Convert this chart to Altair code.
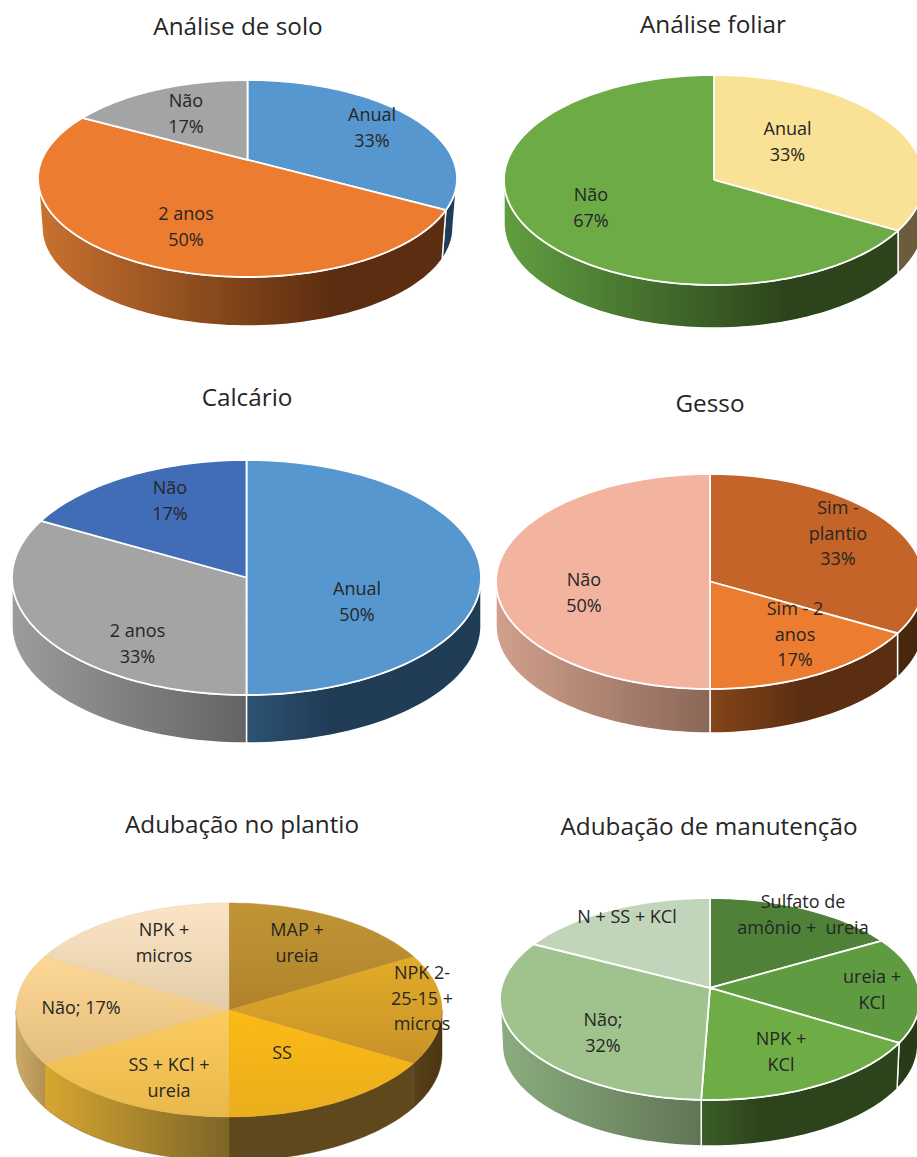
import numpy as np
import pandas as pd
import altair as alt

CANVAS_W, CANVAS_H = 917, 1157
FONT = "Open Sans"
INK = "#262626"

# Shares of each slice, clockwise from twelve o'clock
solo_cats = ["Anual", "2 anos", "Não"]
solo_vals = [33, 50, 17]
foliar_cats = ["Anual", "Não"]
foliar_vals = [33, 67]
calcario_cats = ["Anual", "2 anos", "Não"]
calcario_vals = [50, 33, 17]
gesso_cats = ["Sim - plantio", "Sim - 2 anos", "Não"]
gesso_vals = [33, 17, 50]
plantio_cats = ["MAP + ureia", "NPK 2-25-15 + micros", "SS", "SS + KCl + ureia", "Não", "NPK + micros"]
plantio_vals = [17, 17, 17, 17, 17, 17]
manut_cats = ["Sulfato de amônio + ureia", "ureia + KCl", "NPK + KCl", "Não", "N + SS + KCl"]
manut_vals = [16.7, 17, 16.9, 32, 17.4]


def flat(c):
    return [(0, c), (1, c)]


# Disc geometry: ellipse centre, semi-axes, apex shift (perspective) and wall depth.
# Each slice carries its face fill (one colour, or top/bottom pair) and wall stops.
PIES = [
    dict(title="Análise de solo", title_xy=(238, 28), cats=solo_cats, vals=solo_vals,
         cx=247.5, cy=178.5, a=209.5, b=98.5, e=-0.19, depth=49, edge="#FFFFFF",
         faces=["#5797D0", "#EC7C30", "#A3A4A3"],
         walls=[flat("#1F3D58"),
                [(0, "#C8722F"), (0.72, "#5C2D10"), (1, "#5C2D10")],
                flat("#777777")],
         labels=[(["Anual", "33%"], 372, 115), (["2 anos", "50%"], 186, 214), (["Não", "17%"], 186, 101)]),
    dict(title="Análise foliar", title_xy=(713, 26), cats=foliar_cats, vals=foliar_vals,
         cx=714, cy=180, a=210, b=105, e=0.0, depth=43, edge="#FFFFFF",
         faces=["#F9E195", "#6DAB47"],
         walls=[flat("#6A5C3D"),
                [(0, "#609E41"), (0.72, "#2C431B"), (1, "#2C431B")]],
         labels=[(["Anual", "33%"], 787.5, 129), (["Não", "67%"], 591, 195)]),
    dict(title="Calcário", title_xy=(247, 399), cats=calcario_cats, vals=calcario_vals,
         cx=246.5, cy=577.5, a=234.5, b=117.5, e=0.0, depth=48, edge="#FFFFFF",
         faces=["#5797D0", "#A3A4A3", "#416DB6"],
         walls=[[(0, "#2C5273"), (0.35, "#213C55"), (1, "#213C55")],
                [(0, "#9C9C9C"), (1, "#636363")],
                flat("#2F4F80")],
         labels=[(["Anual", "50%"], 357, 589), (["2 anos", "33%"], 137.5, 631), (["Não", "17%"], 170, 488)]),
    dict(title="Gesso", title_xy=(710, 405), cats=gesso_cats, vals=gesso_vals,
         cx=710, cy=581.5, a=214, b=107.5, e=0.0, depth=44, edge="#FFFFFF",
         faces=["#C46428", "#EC7C30", "#F2B49F"],
         walls=[flat("#47280C"),
                [(0, "#84451A"), (0.5, "#5B2E11"), (1, "#5B2E11")],
                [(0, "#D2A08D"), (1, "#8A6757")]],
         labels=[(["Sim -", "plantio", "33%"], 838, 508), (["Sim - 2", "anos", "17%"], 795, 609),
                 (["Não", "50%"], 584, 580)]),
    dict(title="Adubação no plantio", title_xy=(242, 826), cats=plantio_cats, vals=plantio_vals,
         cx=229, cy=1010, a=213, b=107, e=0.0, depth=44, edge=None,
         faces=[("#C09535", "#B0832A"), ("#E2AB27", "#C8922A"), ("#FBBA14", "#EBAE1E"),
                ("#FCCC62", "#E8B84A"), ("#FCD795", "#E3BE7E"), ("#FCE5C6", "#E2CBA6")],
         walls=[flat("#7A5E22"), [(0, "#58401A"), (1, "#4A3610")],
                flat("#5F481B"), [(0, "#D6A730"), (1, "#7E6528")],
                [(0, "#CBAA6A"), (1, "#B39254")], flat("#B39254")],
         labels=[(["MAP +", "ureia"], 297, 930), (["NPK 2-", "25-15 +", "micros"], 422, 973), (["SS"], 282, 1053),
                 (["SS + KCl +", "ureia"], 169, 1065), (["Não; 17%"], 81, 1008), (["NPK +", "micros"], 164, 930)]),
    dict(title="Adubação de manutenção", title_xy=(709, 828), cats=manut_cats, vals=manut_vals,
         cx=710, cy=999, a=210, b=101, e=-0.11, depth=46, edge="#FFFFFF",
         faces=["#4F8138", "#5F9B40", "#6EAC46", "#A0C28D", "#C1D5BB"],
         walls=[flat("#2A4019"), flat("#263B18"),
                [(0, "#3B5E28"), (0.3, "#2C431B"), (1, "#2C431B")],
                [(0, "#8AAD7E"), (1, "#617556")], flat("#7C8F74")],
         labels=[(["Sulfato de", "amônio +\u00a0 ureia"], 803, 902), (["ureia +", "KCl"], 872, 977), (["NPK +", "KCl"], 781, 1039),
                 (["Não;", "32%"], 603, 1020), (["N + SS + KCl"], 627, 917)]),
]

LINE_STEP = 25.6

x_scale = alt.Scale(domain=[0, CANVAS_W], nice=False, zero=False)
y_scale = alt.Scale(domain=[CANVAS_H, 0], nice=False, zero=False)
X = alt.X("x:Q", scale=x_scale, axis=None)
Y = alt.Y("y:Q", scale=y_scale, axis=None)


def rim_points(p, deg):
    """Project clockwise angles on the disc rim onto the tilted ellipse."""
    t = np.radians(deg)
    u, v = np.sin(t), -np.cos(t)
    e = p["e"]
    w = 1 + e * v
    return (p["cx"] + p["a"] * u * np.sqrt(1 - e * e) / w,
            p["cy"] + p["b"] * (v + e) / w)


def polygon(xs, ys, **mark_kw):
    xs, ys = np.append(xs, xs[0]), np.append(ys, ys[0])
    frame = pd.DataFrame({"x": xs, "y": ys, "i": np.arange(len(xs))})
    return alt.Chart(frame).mark_line(clip=True, interpolate="linear", **mark_kw).encode(
        x=X, y=Y, order=alt.Order("i:Q"))


def gradient(stops, x2=1, y2=0):
    return alt.LinearGradient(
        gradient="linear", x1=0, y1=0, x2=x2, y2=y2,
        stops=[alt.GradientStop(offset=o, color=c) for o, c in stops])


def draw_pie(p):
    vals = np.asarray(p["vals"], dtype=float)
    edges = np.concatenate([[0], np.cumsum(vals)]) / vals.sum() * 360
    apex_x, apex_y = p["cx"], p["cy"] + p["b"] * p["e"]
    # The wall is only visible between the two side tangents of the ellipse
    front0 = np.degrees(np.arccos(p["e"]))
    front1 = 360 - front0
    # The lower rim recedes slightly when the disc is seen in perspective
    taper = 1 - 0.1 * abs(p["e"])

    walls, faces = [], []
    for i in range(len(vals)):
        t0, t1 = edges[i], edges[i + 1]
        a0, a1 = max(t0, front0), min(t1, front1)
        if a1 > a0:
            xs, ys = rim_points(p, np.linspace(a0, a1, max(3, int((a1 - a0) / 1.5))))
            low_x = p["cx"] + (xs - p["cx"]) * taper
            wx = np.concatenate([xs, low_x[::-1]])
            wy = np.concatenate([ys, ys[::-1] + p["depth"]])
            stops = p["walls"][i]
            kw = dict(stroke=p["edge"], strokeWidth=1.4) if p["edge"] else dict(stroke=stops[-1][1], strokeWidth=0.5)
            walls.append(polygon(wx, wy, fill=gradient(stops), **kw))
        xs, ys = rim_points(p, np.linspace(t0, t1, max(3, int((t1 - t0) / 1.5))))
        fx = np.concatenate([[apex_x], xs])
        fy = np.concatenate([[apex_y], ys])
        face = p["faces"][i]
        if isinstance(face, tuple):
            faces.append(polygon(fx, fy, fill=gradient([(0, face[0]), (1, face[1])], x2=0, y2=1),
                                 stroke=face[1], strokeWidth=0.4))
        else:
            faces.append(polygon(fx, fy, fill=face, stroke=p["edge"], strokeWidth=1.8))
    return walls + faces


def text_layer(rows, size):
    return alt.Chart(pd.DataFrame(rows)).mark_text(
        font=FONT, fontSize=size, color=INK, align="center", baseline="middle", clip=True
    ).encode(x=X, y=Y, text="t:N")


layers = []
label_rows, title_rows = [], []
for pie in PIES:
    layers.extend(draw_pie(pie))
    title_rows.append({"t": pie["title"], "x": pie["title_xy"][0], "y": pie["title_xy"][1]})
    for lines, lx, ly in pie["labels"]:
        for k, line in enumerate(lines):
            label_rows.append({"t": line, "x": lx, "y": ly + 1 + k * LINE_STEP})

layers.append(text_layer(label_rows, 18))
layers.append(text_layer(title_rows, 24.3))

chart = alt.layer(*layers).properties(
    width=CANVAS_W, height=CANVAS_H, padding=0,
    autosize=alt.AutoSizeParams(type="none"), background="#FFFFFF",
).configure_view(stroke=None)

chart.save("out.html", embed_options={"renderer": "svg", "actions": False})
